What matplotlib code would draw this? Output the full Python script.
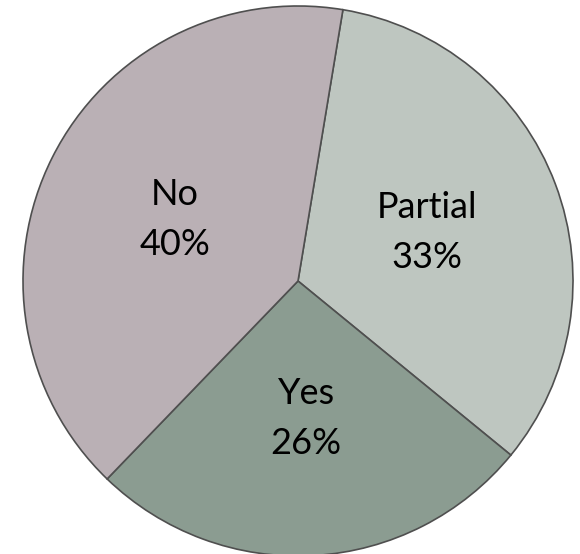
import matplotlib.pyplot as plt

# 数据
categories = ["Partial", "Yes", "No"]
values = [33.3, 26.3, 40.4]
colors = ["#BEC6C0", "#8B9C91", "#BAB0B5"]

labels = [f"{c}\n{round(v)}%" for c, v in zip(categories, values)]

fig = plt.figure(figsize=(5.8, 5.54), dpi=100)
ax = fig.add_axes([0, 0, 1, 1])

wedges, texts = ax.pie(values, labels=labels, colors=colors, startangle=80.6,
                       counterclock=False, labeldistance=0.5,
                       wedgeprops=dict(edgecolor="#4F4F4F", linewidth=1.2),
                       textprops=dict(fontsize=26, family=["Lato", "DejaVu Sans"],
                                      color="black", ha="center", va="center",
                                      linespacing=1.62))

r = 275.0
ax.set_xlim(-298 / r, (580 - 298) / r)
ax.set_ylim((281 - 554) / r, 281 / r)
ax.set_aspect("equal")
ax.axis("off")

fig.savefig("out.png", dpi=100)
